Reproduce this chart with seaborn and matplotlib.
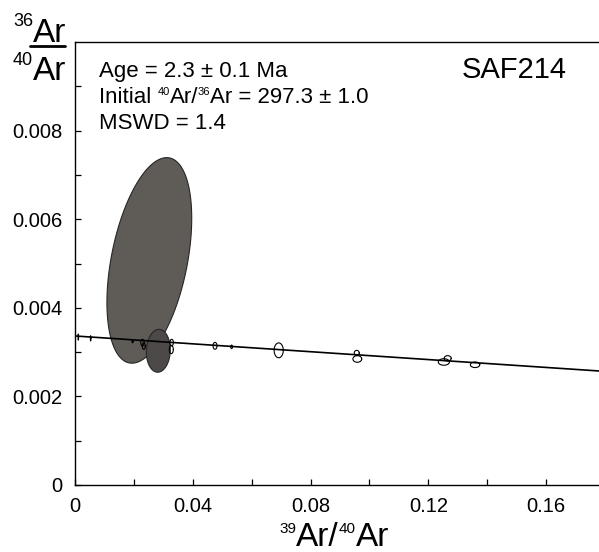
import numpy as np
import pandas as pd
import matplotlib
matplotlib.use("Agg")
import matplotlib.pyplot as plt
import seaborn as sns

# ---- data ----
# error ellipses: centre, half-extents (x, y) and correlation
ell_x = [0.02525, 0.0283, 0.00112, 0.00532, 0.01956, 0.02292, 0.02336, 0.03283, 0.0327,
         0.04756, 0.0532, 0.0692, 0.0957, 0.0959, 0.1266, 0.1253, 0.1359]
ell_y = [0.00507, 0.00303, 0.00334, 0.00331, 0.00324, 0.003214, 0.003137, 0.003214, 0.003059,
         0.003142, 0.003119, 0.00304, 0.00298, 0.002845, 0.00286, 0.002777, 0.002714]
ell_sx = [0.0144, 0.00407, 0.0001, 0.0001, 0.0002, 0.00058, 0.0005, 0.00058, 0.0007,
          0.00068, 0.0003, 0.00156, 0.00085, 0.0015, 0.0012, 0.0019, 0.0016]
ell_sy = [0.00232, 0.000484, 0.00007, 0.00006, 0.00003, 0.000075, 0.000075, 0.000075, 0.000094,
          0.000078, 0.00004, 0.000168, 0.00006, 0.000075, 0.00006, 0.000074, 0.000063]
ell_rho = [0.41, 0.05, 0, 0, 0, 0, 0, 0, 0, 0, 0, 0, 0, 0, 0, 0, 0]

# isochron line
line_x = [0.0, 0.178]
line_y = [0.003364, 0.002574]

x_ticks = [0, 0.04, 0.08, 0.12, 0.16]
x_ticklabels = ["0", "0.04", "0.08", "0.12", "0.16"]
y_ticks = [0, 0.002, 0.004, 0.006, 0.008]
y_ticklabels = ["0", "0.002", "0.004", "0.006", "0.008"]

# ---- style ----
sns.set_theme(style="ticks")
plt.rcParams["font.family"] = ["Liberation Sans", "DejaVu Sans"]

W, H = 599, 552
fig = plt.figure(figsize=(W / 100, H / 100), dpi=100)
ax = fig.add_axes([75 / W, 67 / H, 524 / W, 443 / H])
renderer = fig.canvas.get_renderer()

fills = ["#5f5b57", "#4d4948"]
t = np.linspace(0, 2 * np.pi, 200)
for i, (cx, cy, sx, sy, r) in enumerate(zip(ell_x, ell_y, ell_sx, ell_sy, ell_rho)):
    px = cx + sx * np.cos(t)
    py = cy + sy * (r * np.cos(t) + np.sqrt(1 - r * r) * np.sin(t))
    if i < 2:
        ax.fill(px, py, facecolor=fills[i], edgecolor="#262626", linewidth=0.8, zorder=1 + i)
    else:
        ax.plot(px, py, color="black", linewidth=0.8, zorder=4)

df_line = pd.DataFrame({"x": line_x, "y": line_y})
sns.lineplot(data=df_line, x="x", y="y", ax=ax, color="black", linewidth=1.2, zorder=3)

ax.set_xlim(0, 0.178)
ax.set_ylim(0, 0.010)
ax.set_xticks(x_ticks)
ax.set_xticklabels(x_ticklabels)
ax.set_yticks(y_ticks)
ax.set_yticklabels(y_ticklabels)
ax.set_xticks([0.02, 0.06, 0.10, 0.14], minor=True)
ax.set_yticks([0.001, 0.003, 0.005, 0.007, 0.009], minor=True)
ax.tick_params(which="both", direction="in", length=4, width=0.9, color="black",
               labelsize=14.5, labelcolor="black", pad=9)
ax.set_xlabel("")
ax.set_ylabel("")
for s in ["left", "bottom", "top"]:
    ax.spines[s].set_color("black")
    ax.spines[s].set_linewidth(1.0)
ax.spines["right"].set_visible(False)


def fx(px):
    return px / W


def fy(py):
    return 1 - py / H


def seq_text(x, y, segs, align="left"):
    """Draw text segments (string, size, rise_px) along a baseline in pixel coords."""
    items = []
    total = 0.0
    for s, size, rise in segs:
        tt = fig.text(0, 0, s, fontsize=size, ha="left", va="baseline", color="black")
        w = tt.get_window_extent(renderer).width
        items.append((tt, rise, w))
        total += w
    if align == "center":
        x = x - total / 2
    elif align == "right":
        x = x - total
    for tt, rise, w in items:
        tt.set_position((fx(x), fy(y - rise)))
        x += w


# annotation
seq_text(99, 77, [("Age = 2.3 \u00b1 0.1 Ma", 16, 0)])
seq_text(99, 103, [("Initial ", 16, 0), ("40", 8, 8), ("Ar/", 16, 0), ("36", 8, 8),
                   ("Ar = 297.3 \u00b1 1.0", 16, 0)])
seq_text(99, 129, [("MSWD = 1.4", 16, 0)])
seq_text(567, 78, [("SAF214", 21, 0)], align="right")

# y label (fraction)
seq_text(13, 42, [("36", 13, 16), ("Ar", 24, 0)])
seq_text(13, 80, [("40", 13, 15), ("Ar", 24, 0)])
fig.add_artist(plt.Line2D([fx(30), fx(65)], [fy(46), fy(46)], color="black", linewidth=2,
                          transform=fig.transFigure))

# x label
seq_text(334, 546, [("39", 11, 13), ("Ar/", 24, 0), ("40", 11, 13), ("Ar", 24, 0)],
         align="center")

fig.savefig("out.png", dpi=100)
